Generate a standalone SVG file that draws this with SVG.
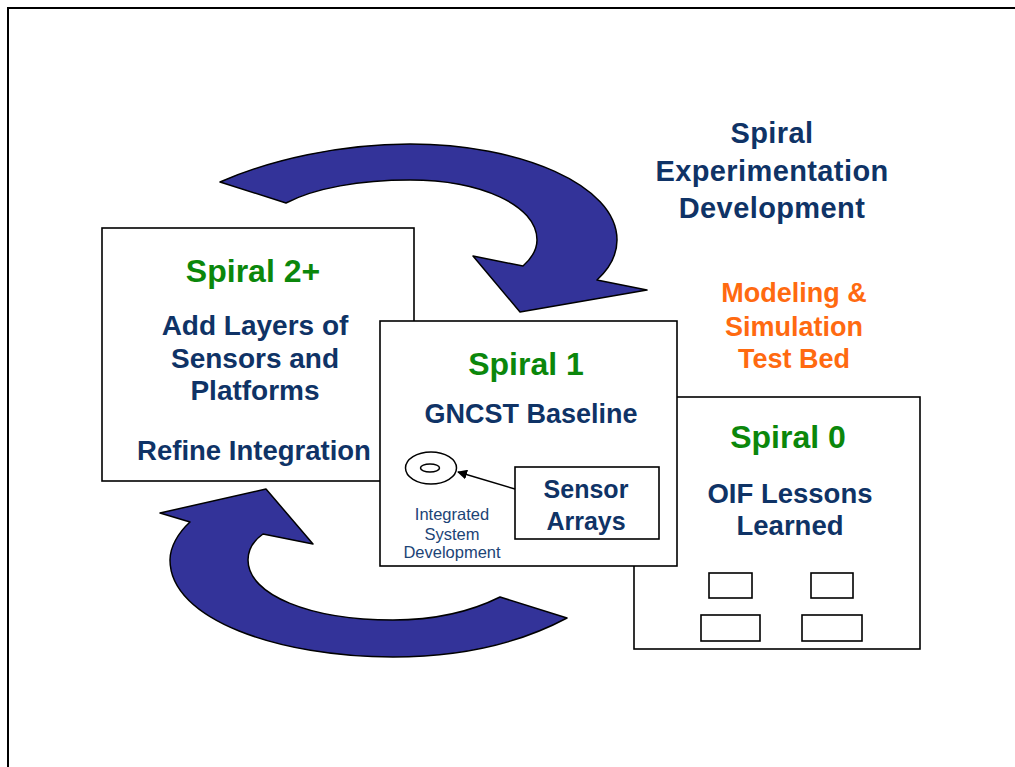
<svg xmlns="http://www.w3.org/2000/svg" width="1015" height="767" viewBox="0 0 1015 767">
<style>
text{font-family:"Liberation Sans",Arial,sans-serif;text-anchor:middle}
.b{font-weight:bold}
.navy{fill:#0f3366}
.green{fill:#0b870b}
.orange{fill:#ff6a10}
.box{fill:#fff;stroke:#000;stroke-width:1.6}
.big{fill:#333399;stroke:#000;stroke-width:1.5;stroke-linejoin:round}
</style>
<defs>
<marker id="ah" viewBox="0 0 10 10" refX="9" refY="5" markerWidth="10" markerHeight="10" markerUnits="userSpaceOnUse" orient="auto">
<path d="M0,0 L10,5 L0,10 Z" fill="#000"/>
</marker>
</defs>
<rect width="1015" height="767" fill="#fff"/>
<path d="M8,767 L8,8 L1015,8" fill="none" stroke="#000" stroke-width="2"/>

<g id="cycle-arrows">
<path class="big" d="M220,182 C270,160 340,144 410,144 C520,144 617,185 617,240 C617,255 610,268 597,280 L647,290 L520,312 L473,256 L523,266 C532,258 537,250 537,240 C537,205 480,180 410,180 C360,180 315,188 286,203 Z"/>
<path class="big" d="M567,618 C520,643 460,657 393,657 C280,657 170,620 170,560 C170,547 178,533 190,522 L160,513 L266,489 L313,544 L263,534 C253,541 248,550 248,560 C248,595 310,620 393,620 C435,620 470,612 500,597 Z"/>
</g>

<g id="title">
<text class="b navy" x="772" y="143" font-size="29" letter-spacing="0.4">Spiral</text>
<text class="b navy" x="772" y="181" font-size="29" letter-spacing="0.4">Experimentation</text>
<text class="b navy" x="772" y="218" font-size="29" letter-spacing="0.4">Development</text>
</g>

<g id="testbed">
<text class="b orange" x="794" y="302" font-size="27">Modeling &amp;</text>
<text class="b orange" x="794" y="336" font-size="27">Simulation</text>
<text class="b orange" x="794" y="368" font-size="27">Test Bed</text>
</g>

<g id="spiral0">
<rect class="box" x="634" y="397" width="286" height="252"/>
<text class="b green" x="788" y="448" font-size="32">Spiral 0</text>
<text class="b navy" x="790" y="503" font-size="27.5">OIF Lessons</text>
<text class="b navy" x="790" y="535" font-size="27.5">Learned</text>
<rect class="box" x="709" y="573" width="43" height="25"/>
<rect class="box" x="811" y="573" width="42" height="25"/>
<rect class="box" x="701" y="615" width="59" height="26"/>
<rect class="box" x="802" y="615" width="60" height="26"/>
</g>

<g id="spiral2">
<rect class="box" x="102" y="228" width="312" height="253"/>
<text class="b green" x="253" y="282" font-size="32">Spiral 2+</text>
<text class="b navy" x="255" y="335" font-size="28">Add Layers of</text>
<text class="b navy" x="255" y="368" font-size="28">Sensors and</text>
<text class="b navy" x="255" y="400" font-size="28">Platforms</text>
<text class="b navy" x="254" y="460" font-size="27.5">Refine Integration</text>
</g>

<g id="spiral1">
<rect class="box" x="380" y="321" width="297" height="245"/>
<text class="b green" x="526" y="375" font-size="32">Spiral 1</text>
<text class="b navy" x="531" y="423" font-size="27">GNCST Baseline</text>
</g>

<g id="integrated-system">
<ellipse cx="431" cy="468" rx="25.5" ry="16" fill="#fff" stroke="#000" stroke-width="1.5"/>
<ellipse cx="430" cy="468" rx="9.5" ry="4" fill="none" stroke="#000" stroke-width="1.5"/>
<text x="452" y="520" font-size="16.5" fill="#1c4476">Integrated</text>
<text x="452" y="540" font-size="16.5" fill="#1c4476">System</text>
<text x="452" y="558" font-size="16.5" fill="#1c4476">Development</text>
</g>

<g id="sensor-arrays">
<rect class="box" x="515" y="467" width="144" height="72"/>
<text class="b navy" x="586" y="498" font-size="25">Sensor</text>
<text class="b navy" x="586" y="530" font-size="25">Arrays</text>
</g>

<g id="connectors">
<line x1="515" y1="489" x2="458" y2="472" stroke="#000" stroke-width="1.5" marker-end="url(#ah)"/>
</g>
</svg>
